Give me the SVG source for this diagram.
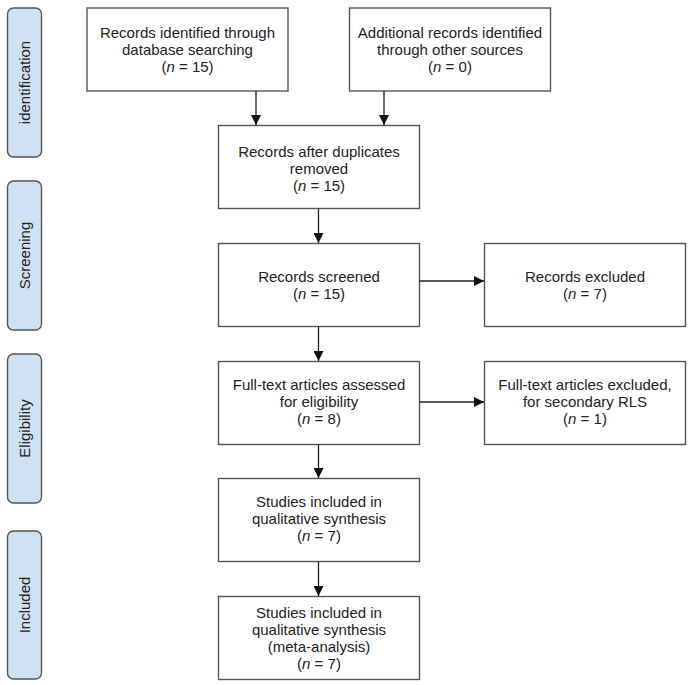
<svg xmlns="http://www.w3.org/2000/svg" width="693" height="685" viewBox="0 0 693 685">
<style>
.box{fill:#fff;stroke:#555;stroke-width:1.4}
.side{fill:#cfe2f3;stroke:#555;stroke-width:1.4}
.t{font-family:"Liberation Sans",Arial,sans-serif;font-size:15px;fill:#222;text-anchor:middle}
.c{stroke:#222;stroke-width:1.3;fill:none}
</style>
<defs>
<marker id="ah" markerWidth="10" markerHeight="10" refX="10" refY="5" orient="auto" markerUnits="userSpaceOnUse">
<path d="M0,0 L10,5 L0,10 Z" fill="#111"/>
</marker>
</defs>
<rect width="693" height="685" fill="#fff"/>
<g id="phase-identification"><rect class="side" x="7.5" y="8" width="34" height="149" rx="6"/><text class="t" transform="translate(29.5,82.5) rotate(-90)">identification</text></g>
<g id="phase-screening"><rect class="side" x="7.5" y="181" width="34" height="149" rx="6"/><text class="t" transform="translate(29.5,255.5) rotate(-90)">Screening</text></g>
<g id="phase-eligibility"><rect class="side" x="7.5" y="354" width="34" height="149" rx="6"/><text class="t" transform="translate(29.5,428.5) rotate(-90)">Eligibility</text></g>
<g id="phase-included"><rect class="side" x="7.5" y="531" width="34" height="148" rx="6"/><text class="t" transform="translate(29.5,605) rotate(-90)">Included</text></g>

<g id="n-db"><rect class="box" x="87" y="8" width="201" height="83"/>
<text class="t" x="187.5" y="38">Records identified through</text>
<text class="t" x="187.5" y="55">database searching</text>
<text class="t" x="187.5" y="72">(<tspan font-style="italic">n</tspan> = 15)</text></g>
<g id="n-other"><rect class="box" x="349.5" y="8" width="201" height="83"/>
<text class="t" x="450" y="38">Additional records identified</text>
<text class="t" x="450" y="55">through other sources</text>
<text class="t" x="450" y="72">(<tspan font-style="italic">n</tspan> = 0)</text></g>
<g id="n-dup"><rect class="box" x="218.5" y="125.5" width="201" height="83"/>
<text class="t" x="319" y="157">Records after duplicates</text>
<text class="t" x="319" y="174">removed</text>
<text class="t" x="319" y="191">(<tspan font-style="italic">n</tspan> = 15)</text></g>
<g id="n-screened"><rect class="box" x="218.5" y="243.5" width="201" height="83"/>
<text class="t" x="319" y="282">Records screened</text>
<text class="t" x="319" y="299">(<tspan font-style="italic">n</tspan> = 15)</text></g>
<g id="n-excluded"><rect class="box" x="484.5" y="243.5" width="201" height="83"/>
<text class="t" x="585" y="282">Records excluded</text>
<text class="t" x="585" y="299">(<tspan font-style="italic">n</tspan> = 7)</text></g>
<g id="n-fulltext"><rect class="box" x="218.5" y="361.5" width="201" height="83"/>
<text class="t" x="319" y="390">Full-text articles assessed</text>
<text class="t" x="319" y="407">for eligibility</text>
<text class="t" x="319" y="424">(<tspan font-style="italic">n</tspan> = 8)</text></g>
<g id="n-ftexcl"><rect class="box" x="484.5" y="361.5" width="201" height="83"/>
<text class="t" x="585" y="390">Full-text articles excluded,</text>
<text class="t" x="585" y="407">for secondary RLS</text>
<text class="t" x="585" y="424">(<tspan font-style="italic">n</tspan> = 1)</text></g>
<g id="n-qual"><rect class="box" x="218.5" y="478.5" width="201" height="83"/>
<text class="t" x="319" y="507">Studies included in</text>
<text class="t" x="319" y="524">qualitative synthesis</text>
<text class="t" x="319" y="541">(<tspan font-style="italic">n</tspan> = 7)</text></g>
<g id="n-meta"><rect class="box" x="218.5" y="596.5" width="201" height="83"/>
<text class="t" x="319" y="618">Studies included in</text>
<text class="t" x="319" y="635">qualitative synthesis</text>
<text class="t" x="319" y="652">(meta-analysis)</text>
<text class="t" x="319" y="669">(<tspan font-style="italic">n</tspan> = 7)</text></g>

<g id="connectors">
<line class="c" x1="256" y1="91" x2="256" y2="125" marker-end="url(#ah)"/>
<line class="c" x1="384" y1="91" x2="384" y2="125" marker-end="url(#ah)"/>
<line class="c" x1="318.5" y1="208.5" x2="318.5" y2="243" marker-end="url(#ah)"/>
<line class="c" x1="318.5" y1="326.5" x2="318.5" y2="361" marker-end="url(#ah)"/>
<line class="c" x1="318.5" y1="444.5" x2="318.5" y2="478" marker-end="url(#ah)"/>
<line class="c" x1="318.5" y1="561.5" x2="318.5" y2="596" marker-end="url(#ah)"/>
<line class="c" x1="419.5" y1="281" x2="484" y2="281" marker-end="url(#ah)"/>
<line class="c" x1="419.5" y1="402" x2="484" y2="402" marker-end="url(#ah)"/>
</g>
</svg>
